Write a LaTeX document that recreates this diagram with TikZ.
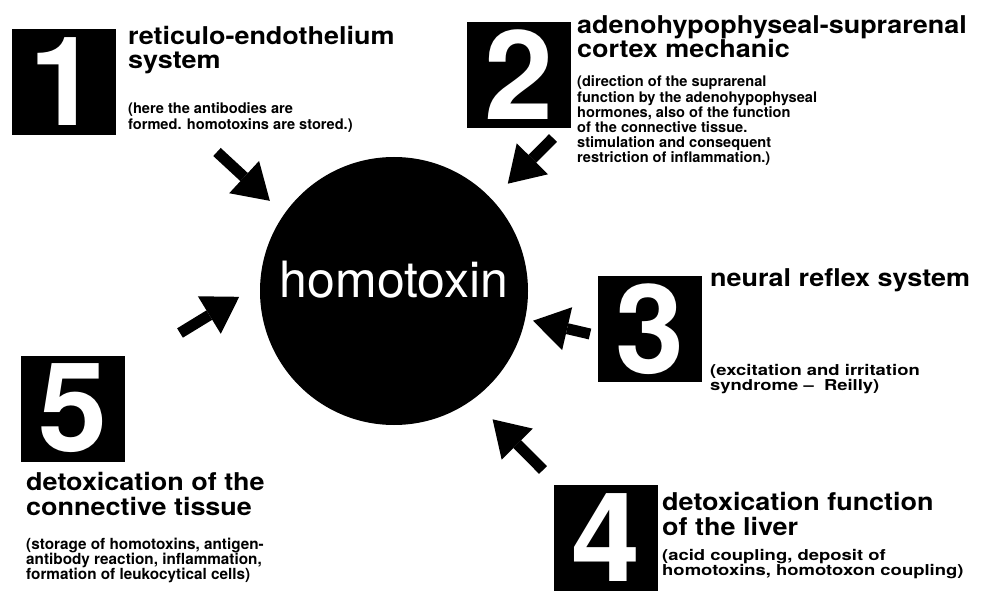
\documentclass[tikz,border=0pt]{standalone}
\usepackage{fontspec}
\setmainfont{TeX Gyre Heros}
\newfontfamily\headfont[FakeStretch=1.1, Ligatures=TeX]{TeX Gyre Heros}
\newfontfamily\widefont[FakeStretch=1.23, Ligatures=TeX]{TeX Gyre Heros}
\usepackage{tikz}
\usetikzlibrary{arrows.meta,positioning,calc}

\begin{document}
\begin{tikzpicture}[x=1pt, y=-1pt,
  numbox/.style={fill=black, text=white, inner sep=0pt, minimum width=104pt, minimum height=106pt, font=\fontsize{124}{124}\selectfont\bfseries},
  headtxt/.style={anchor=base west, align=left, inner sep=0pt, font=\headfont\fontsize{24.5}{24.5}\selectfont\bfseries},
  subtxt/.style={anchor=base west, align=left, inner sep=0pt, font=\fontsize{14.6}{15.2}\selectfont\bfseries},
  widetxt/.style={subtxt, font=\widefont\fontsize{15}{14.5}\selectfont\bfseries},
  blockarrow/.style={line width=11pt, -{Triangle[length=35pt, width=44pt, line width=0pt]}}
]
\useasboundingbox (0,0) rectangle (986,599);
\node[circle, fill=black, text=white, inner sep=0pt, outer sep=0pt, minimum size=268pt, text depth=24pt, font=\fontsize{50}{50}\selectfont] (homo) at (394,291) {homotoxin};

% numbered boxes
\node[numbox] (n1) at (63.5,82) {1};
\node[numbox] (n2) at (518.5,75) {2};
\node[numbox] (n3) at (649.5,329) {3};
\node[numbox] (n4) at (606,537.5) {4};
\node[numbox] (n5) at (72.5,408.5) {5};

% headings and notes (anchored at the baseline of the last line)
\node[headtxt] (h1) at (128,69) {reticulo-endothelium\\system};
\node[subtxt] (s1) at (128,130) {(here the antibodies are\\[1pt]formed. homotoxins are stored.)};
\node[headtxt] (h2) at (577,58) {adenohypophyseal-suprarenal\\cortex mechanic};
\node[subtxt] (s2) at (577,163) {(direction of the suprarenal\\function by the adenohypophyseal\\hormones, also of the function\\of the connective tissue.\\stimulation and consequent\\restriction of inflammation.)};
\node[headtxt] (h3) at (710,286) {neural reflex system};
\node[widetxt] (s3) at (710,390) {(excitation and irritation\\syndrome\ \textendash\ \ Reilly)};
\node[headtxt] (h4) at (662,535) {detoxication function\\of the liver};
\node[widetxt] (s4) at (662,575) {(acid coupling, deposit of\\homotoxins, homotoxon coupling)};
\node[headtxt] (h5) at (26,515) {detoxication of the\\connective tissue};
\node[subtxt, font=\fontsize{15.3}{14.8}\selectfont\bfseries] (s5) at (26,579) {(storage of homotoxins, antigen-\\antibody reaction, inflammation,\\formation of leukocytical cells)};

% arrows into the homotoxin
\coordinate (a1) at (217,152);
\coordinate (a2) at (553,138);
\coordinate (a3) at (590,334);
\coordinate (a4) at (543,470);
\coordinate (a5) at (180,333);
\draw[blockarrow, shorten >=19.6pt] (a1) -- (homo.145);
\draw[blockarrow, shorten >=22.4pt] (a2) -- (homo.43.6);
\draw[blockarrow, shorten >=8.2pt] (a3) -- (homo.348);
\draw[blockarrow, shorten >=28.1pt] (a4) -- (homo.306.3);
\draw[blockarrow, shorten >=24.6pt] (a5) -- (homo.177.6);
\end{tikzpicture}
\end{document}
